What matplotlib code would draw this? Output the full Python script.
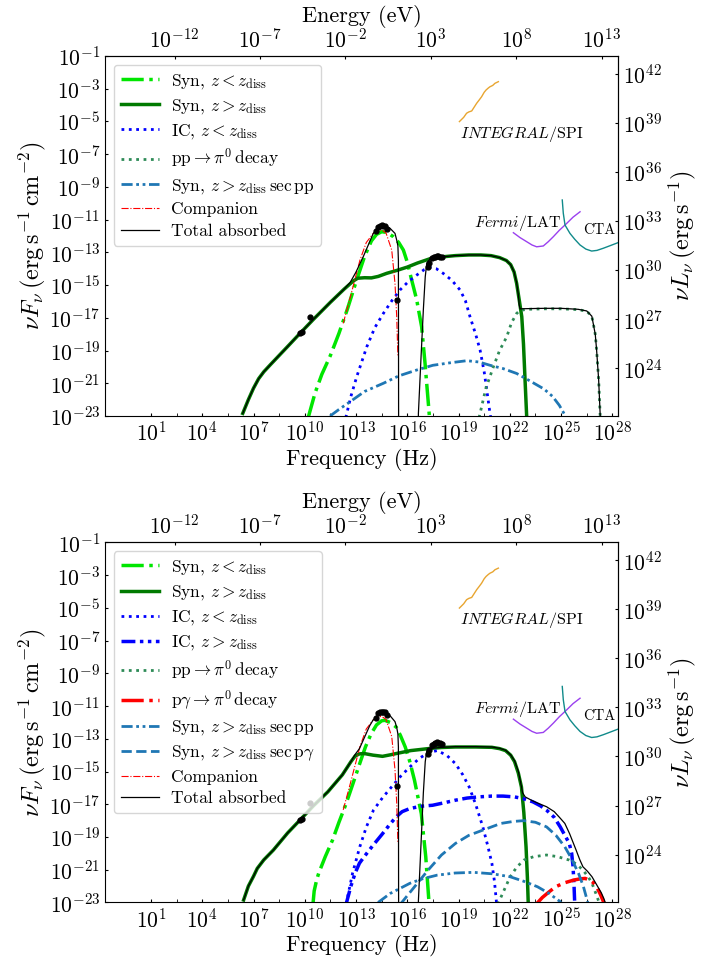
import numpy as np
import matplotlib.pyplot as plt
from matplotlib.ticker import FixedLocator, NullLocator

plt.rcParams['font.family'] = 'serif'
plt.rcParams['font.serif'] = ['cmr10']
plt.rcParams['mathtext.fontset'] = 'cm'
plt.rcParams['axes.formatter.use_mathtext'] = True

H_EV = 4.1357e-15                      # eV s
LUM = 4 * np.pi * (3.086e21) ** 2      # 1 kpc

# ---- values, as log10(nu/Hz) and log10(nuFnu) ----
# top panel
t_syn_in_x = [10.2, 10.6, 11.0, 11.5, 12.0, 12.5, 13.0, 13.5, 13.9, 14.2, 14.5, 14.8, 15.18, 15.5, 15.77,
              16.0, 16.16, 16.55, 16.84, 17.04, 17.23, 17.3]
t_syn_in_y = [-23.1, -21.6, -20.45, -19.3, -17.95, -16.45, -14.8, -13.25, -12.3, -11.9, -11.74, -11.78, -12.04,
              -12.4, -12.86, -13.6, -14.29, -15.9, -17.55, -19.8, -22.2, -23.1]
t_syn_out_x = [6.37, 6.7, 7.0, 7.3, 7.6, 8.0, 9.0, 9.72, 10.5, 11.5, 12.3, 12.84, 13.1, 13.5, 13.9, 14.3, 14.8,
               15.4, 16.0, 16.6, 17.3, 18.0, 18.8, 19.6, 20.3, 20.9, 21.4, 21.8, 22.05, 22.25, 22.4, 22.55,
               22.7, 22.8, 22.9, 22.99]
t_syn_out_y = [-22.84, -22.0, -21.3, -20.72, -20.3, -19.85, -18.75, -17.95, -17.1, -16.05, -15.25, -14.75,
               -14.58, -14.55, -14.56, -14.47, -14.28, -14.1, -13.9, -13.65, -13.4, -13.28, -13.2, -13.16,
               -13.16, -13.2, -13.32, -13.5, -13.75, -14.2, -14.9, -15.9, -16.93, -18.6, -21.0, -23.1]
t_ic_in_x = [12.4, 12.7, 13.04, 13.63, 14.1, 14.6, 15.1, 15.57, 16.05, 16.55, 17.0, 17.33, 17.7, 18.11, 18.6,
             19.09, 19.4, 19.67, 20.0, 20.26, 20.5, 20.65, 20.84, 20.9]
t_ic_in_y = [-23.1, -21.8, -20.6, -18.77, -17.6, -16.73, -15.95, -15.3, -14.8, -14.39, -14.05, -13.92, -14.0,
             -14.29, -14.7, -15.3, -15.95, -16.93, -18.0, -18.97, -20.3, -21.4, -22.84, -23.2]
t_pp_x = [20.2, 20.26, 20.6, 21.04, 21.4, 21.82, 22.1, 22.4, 22.6, 23.0, 24.0, 25.0, 26.0, 26.5, 26.8, 27.0,
          27.08, 27.2, 27.29, 27.32]
t_pp_y = [-23.1, -22.84, -21.3, -19.99, -19.0, -18.16, -17.3, -16.73, -16.55, -16.48, -16.45, -16.45, -16.5,
          -16.6, -16.9, -18.0, -18.97, -20.8, -23.0, -23.2]
t_sec_pp_x = [11.48, 12.0, 12.65, 13.5, 14.6, 15.5, 16.55, 17.5, 18.5, 19.48, 20.2, 20.84, 21.6, 22.4, 23.0,
              23.5, 24.0, 24.5, 24.9, 25.2, 25.25]
t_sec_pp_y = [-23.0, -22.6, -22.13, -21.5, -21.0, -20.55, -20.19, -19.9, -19.75, -19.62, -19.7, -19.9, -20.1,
              -20.4, -20.75, -21.05, -21.35, -21.8, -22.35, -22.9, -23.1]
comp_x = [12.25, 12.7, 13.23, 13.6, 14.01, 14.3, 14.5, 14.75, 15.09, 15.28, 15.38, 15.42, 15.45]
comp_y = [-17.34, -15.6, -13.47, -12.4, -11.84, -11.66, -11.63, -11.8, -12.86, -14.9, -16.9, -18.3, -19.3]
t_total_x = [6.37, 6.7, 7.0, 7.3, 7.6, 8.0, 9.0, 9.72, 10.5, 11.5, 12.3, 12.65, 13.0, 13.42, 14.01, 14.31,
             14.6, 14.99, 15.28, 15.38, 15.45, 15.48, 15.5, 16.6, 16.65, 16.8, 16.94, 17.05, 17.14, 17.33,
             18.0, 18.8, 19.6, 20.3, 20.9, 21.4, 21.8, 22.05, 22.25, 22.4, 22.5, 22.55, 22.6, 23.0, 24.0,
             25.0, 26.0, 26.5, 26.8, 27.0, 27.08, 27.2, 27.3]
t_total_y = [-22.84, -22.0, -21.3, -20.72, -20.3, -19.85, -18.75, -17.95, -17.1, -16.05, -15.25, -14.85,
             -14.2, -13.27, -11.84, -11.47, -11.33, -11.53, -11.84, -12.25, -12.6, -13.5, -30.0, -30.0,
             -22.84, -19.5, -16.5, -14.5, -13.67, -13.4, -13.28, -13.2, -13.16, -13.16, -13.2, -13.32,
             -13.5, -13.75, -14.2, -14.85, -15.6, -16.2, -16.45, -16.44, -16.42, -16.42, -16.48, -16.58,
             -16.9, -18.0, -18.97, -20.8, -23.2]

# bottom panel
b_syn_in_x = [10.48, 10.55, 10.7, 10.82, 11.2, 11.62, 12.0, 12.42, 12.8, 13.22, 13.55, 13.88, 14.2, 14.5,
              14.68, 15.0, 15.35, 15.6, 15.88, 16.15, 16.42, 16.82, 17.08, 17.27]
b_syn_in_y = [-23.1, -22.3, -21.6, -21.2, -20.2, -19.2, -18.1, -16.96, -15.8, -14.5, -13.5, -12.7, -12.15,
              -11.9, -11.87, -12.0, -12.28, -12.8, -13.5, -14.4, -15.53, -17.57, -20.2, -23.0]
b_syn_out_x = [6.42, 6.7, 7.0, 7.22, 7.6, 8.16, 9.0, 9.75, 10.5, 11.35, 12.2, 12.7, 12.95, 13.2, 13.48, 14.0,
               14.55, 15.0, 15.35, 16.2, 17.22, 18.0, 18.82, 20.0, 20.95, 21.4, 21.75, 22.05, 22.28, 22.5,
               22.68, 22.82, 22.95, 23.03, 23.08]
b_syn_out_y = [-22.85, -22.0, -21.4, -20.92, -20.4, -19.8, -18.75, -17.93, -17.1, -16.24, -15.2, -14.4,
               -14.05, -13.92, -13.9, -14.0, -14.07, -13.98, -13.9, -13.72, -13.6, -13.53, -13.5, -13.5,
               -13.52, -13.6, -13.72, -14.0, -14.4, -15.1, -15.94, -17.5, -19.6, -21.5, -23.1]
b_ic_in_x = [12.42, 12.8, 13.22, 13.6, 14.02, 14.55, 15.08, 15.6, 16.15, 16.7, 17.22, 17.75, 18.3, 18.82,
             19.25, 19.62, 20.0, 20.42, 20.7, 20.95, 21.1, 21.22]
b_ic_in_y = [-23.1, -21.2, -19.6, -18.4, -17.36, -16.6, -15.94, -15.3, -14.72, -14.2, -13.85, -13.72, -14.0,
             -14.52, -15.2, -15.94, -17.0, -18.38, -19.5, -20.6, -21.7, -23.0]
b_ic_out_x = [12.42, 12.7, 12.95, 13.2, 13.48, 14.0, 14.55, 15.0, 15.35, 15.7, 16.15, 16.8, 17.48, 18.2,
              18.82, 19.5, 20.15, 20.95, 21.6, 22.28, 22.8, 23.35, 23.8, 24.15, 24.6, 24.95, 25.25, 25.48,
              25.62, 25.7, 25.76, 25.8]
b_ic_out_y = [-23.1, -22.0, -21.2, -20.6, -20.2, -19.5, -18.8, -18.2, -17.77, -17.45, -17.26, -17.12, -17.06,
              -16.9, -16.75, -16.62, -16.55, -16.5, -16.5, -16.55, -16.66, -16.85, -17.1, -17.36, -17.8,
              -18.38, -18.95, -19.39, -20.0, -20.8, -22.0, -23.1]
b_pp_x = [21.3, 21.6, 22.02, 22.4, 22.82, 23.4, 24.15, 24.8, 25.48, 25.9, 26.28, 26.6, 26.81, 27.0, 27.21,
          27.25]
b_pp_y = [-23.1, -22.4, -21.43, -20.85, -20.41, -20.2, -20.1, -20.2, -20.41, -20.65, -21.02, -21.45, -21.83,
          -22.35, -22.95, -23.1]
b_pg_x = [23.55, 23.9, 24.3, 24.68, 25.2, 25.75, 26.1, 26.41, 26.7, 26.9, 27.08, 27.3, 27.48, 27.52]
b_pg_y = [-23.1, -22.7, -22.35, -22.04, -21.8, -21.63, -21.56, -21.53, -21.65, -21.8, -22.04, -22.5, -22.95,
          -23.1]
b_sec_pp_x = [14.29, 15.0, 16.15, 16.9, 17.75, 18.8, 19.88, 21.0, 22.02, 22.8, 23.62, 24.3, 24.95, 25.0]
b_sec_pp_y = [-23.0, -22.45, -21.83, -21.55, -21.33, -21.2, -21.16, -21.25, -21.43, -21.7, -22.04, -22.45,
              -22.95, -23.1]
b_sec_pg_x = [15.6, 16.3, 17.22, 18.0, 18.82, 19.6, 20.42, 21.48, 22.2, 22.82, 23.5, 24.15, 24.7, 25.22,
              25.6, 26.02, 26.3, 26.55, 26.6]
b_sec_pg_y = [-23.1, -22.2, -21.02, -20.1, -19.39, -18.9, -18.58, -18.17, -18.05, -18.0, -18.1, -18.38,
              -18.9, -19.6, -20.3, -21.22, -22.0, -22.95, -23.2]
b_total_x = [6.42, 6.7, 7.0, 7.22, 7.6, 8.16, 9.0, 9.75, 10.5, 11.35, 12.2, 12.7, 12.95, 13.2, 13.5, 13.8,
             14.0, 14.3, 14.55, 14.8, 15.0, 15.28, 15.38, 15.45, 15.48, 15.5, 16.6, 16.65, 16.8, 16.94,
             17.05, 17.14, 17.3, 18.0, 18.82, 20.0, 20.95, 21.4, 21.75, 22.05, 22.28, 22.5, 22.62, 22.75,
             22.9, 23.35, 23.8, 24.15, 24.6, 24.95, 25.22, 25.5, 25.88, 26.1, 26.28, 26.55, 26.81, 27.1,
             27.35, 27.5, 27.62]
b_total_y = [-22.85, -22.0, -21.4, -20.92, -20.4, -19.8, -18.75, -17.93, -17.1, -16.24, -15.2, -14.4,
             -13.95, -13.6, -12.9, -12.2, -11.85, -11.52, -11.42, -11.45, -11.6, -11.95, -12.3, -12.7,
             -13.5, -30.0, -30.0, -22.9, -19.5, -16.3, -14.4, -13.75, -13.6, -13.52, -13.48, -13.48, -13.5,
             -13.58, -13.7, -13.98, -14.35, -15.0, -15.6, -16.3, -16.55, -16.8, -17.0, -17.15, -17.45,
             -17.85, -18.17, -18.8, -19.8, -20.4, -20.82, -21.1, -21.43, -21.95, -22.4, -22.75, -23.1]

# observed points
obs_x = [9.75, 9.82, 10.33, 14.17, 14.31, 14.4, 14.5, 14.6, 14.69, 14.83, 15.38,
         17.2, 17.27, 17.43, 17.55, 17.62, 17.72, 17.82, 17.92, 18.01]
obs_y = [-17.95, -17.88, -16.93, -11.7, -11.43, -11.37, -11.35, -11.36, -11.39, -11.55, -15.9,
         -13.9, -13.67, -13.37, -13.3, -13.27, -13.22, -13.23, -13.28, -13.31]

# instrument sensitivities
spi_x = [19.05, 19.3, 19.47, 19.6, 19.77, 19.9, 20.06, 20.2, 20.35, 20.5, 20.61, 20.75, 20.84, 21.0, 21.13,
         21.33]
spi_y = [-5.01, -4.75, -4.5, -4.42, -4.36, -4.15, -3.89, -3.7, -3.49, -3.22, -3.08, -2.95, -2.88, -2.8,
         -2.67, -2.57]
lat_x = [22.21, 22.6, 22.99, 23.3, 23.57, 23.96, 24.25, 24.55, 24.9, 25.33, 25.7, 26.11]
lat_y = [-11.8, -12.1, -12.35, -12.55, -12.66, -12.61, -12.35, -12.04, -11.65, -11.23, -10.85, -10.52]
cta_x = [25.07, 25.13, 25.23, 25.52, 25.8, 26.11, 26.45, 26.79, 27.1, 27.47, 27.85, 28.35]
cta_y = [-9.8, -10.61, -11.33, -11.84, -12.2, -12.55, -12.8, -12.92, -12.88, -12.75, -12.6, -12.4]


def p(x, y):
    return 10 ** np.array(x), 10 ** np.array(y)


def panel(ax, curves):
    for x, y, kw in curves:
        ax.plot(*p(x, y), **kw)
    ax.plot(*p(obs_x, obs_y), 'o', color='black', ms=3.5, zorder=5)
    ax.plot(*p(spi_x, spi_y), color='#e8a530', lw=1)
    ax.plot(*p(lat_x, lat_y), color='#9a40ef', lw=1)
    ax.plot(*p(cta_x, cta_y), color='#108a8a', lw=1)
    ax.text(10 ** 19.09, 10 ** -6.01, r'$INTEGRAL$/SPI', fontsize=11.5)
    ax.text(10 ** 19.9, 10 ** -11.43, r'$Fermi$/LAT', fontsize=11.5)
    ax.text(10 ** 26.29, 10 ** -11.88, 'CTA', fontsize=10.5)

    ax.set_xscale('log')
    ax.set_yscale('log')
    ax.set_xlim(10 ** -1.69, 10 ** 28.35)
    ax.set_ylim(1e-23, 1e-1)
    ax.xaxis.set_major_locator(FixedLocator([10.0 ** k for k in range(1, 29, 3)]))
    ax.xaxis.set_minor_locator(FixedLocator([10.0 ** (k + 1.5) for k in range(1, 26, 3)]))
    ax.yaxis.set_major_locator(FixedLocator([10.0 ** k for k in range(-23, 0, 2)]))
    ax.yaxis.set_minor_locator(NullLocator())
    ax.tick_params(which='both', direction='in', length=2.5, labelsize=15.5)
    ax.set_xlabel('Frequency (Hz)', fontsize=16, labelpad=2)
    ax.set_ylabel(r'$\nu F_\nu\,(\mathrm{erg\,s^{-1}\,cm^{-2}})$', fontsize=17.5, labelpad=1)

    top = ax.secondary_xaxis('top', functions=(lambda n: n * H_EV, lambda e: e / H_EV))
    top.xaxis.set_major_locator(FixedLocator([10.0 ** k for k in range(-12, 14, 5)]))
    top.xaxis.set_minor_locator(NullLocator())
    top.tick_params(which='both', direction='in', length=2.5, labelsize=15.5)
    top.set_xlabel('Energy (eV)', fontsize=16, labelpad=4)

    right = ax.secondary_yaxis('right', functions=(lambda f: f * LUM, lambda l: l / LUM))
    right.yaxis.set_major_locator(FixedLocator([10.0 ** k for k in range(24, 43, 3)]))
    right.yaxis.set_minor_locator(NullLocator())
    right.tick_params(which='both', direction='in', length=2.5, labelsize=15.5)
    right.set_ylabel(r'$\nu L_\nu\,(\mathrm{erg\,s^{-1}})$', fontsize=17.5, labelpad=3)

    ax.legend(loc='upper left', fontsize=12.5, handlelength=2.2, handletextpad=0.7, labelspacing=0.36)


s_in = dict(color='#00e600', ls='-.', lw=2.5, label=r'Syn, $z<z_{\rm diss}$')
s_out = dict(color='#007a00', ls='-', lw=2.5, label=r'Syn, $z>z_{\rm diss}$')
ic_in = dict(color='blue', ls=':', lw=2, label=r'IC, $z<z_{\rm diss}$')
ic_out = dict(color='blue', ls=(0, (4, 1.3, 1, 1.3, 1, 1.3)), lw=2.5, label=r'IC, $z>z_{\rm diss}$')
pp = dict(color='seagreen', ls=':', lw=2, label=r'$\rm pp\rightarrow\pi^0\,decay$')
pg = dict(color='red', ls='-.', lw=2.5, label=r'$\rm p\gamma\rightarrow\pi^0\,decay$')
sec_pp = dict(color='#1f77b4', ls=(0, (4, 1.3, 1, 1.3, 1, 1.3)), lw=2,
              label=r'Syn, $z>z_{\rm diss}\,\rm sec\,pp$')
sec_pg = dict(color='#1f77b4', ls='--', lw=2, label=r'Syn, $z>z_{\rm diss}\,\rm sec\,p\gamma$')
comp = dict(color='red', ls='-.', lw=0.8, label='Companion')
tot = dict(color='black', ls='-', lw=0.9, label='Total absorbed')

fig = plt.figure(figsize=(7.13, 9.65), dpi=100)
ax1 = fig.add_axes([0.1473, 0.5689, 0.7199, 0.3731])
ax2 = fig.add_axes([0.1473, 0.0648, 0.7199, 0.3731])

panel(ax1, [(t_syn_in_x, t_syn_in_y, s_in), (t_syn_out_x, t_syn_out_y, s_out),
            (t_ic_in_x, t_ic_in_y, ic_in), (t_pp_x, t_pp_y, pp),
            (t_sec_pp_x, t_sec_pp_y, sec_pp), (comp_x, comp_y, comp),
            (t_total_x, t_total_y, tot)])
panel(ax2, [(b_syn_in_x, b_syn_in_y, s_in), (b_syn_out_x, b_syn_out_y, s_out),
            (b_ic_in_x, b_ic_in_y, ic_in), (b_ic_out_x, b_ic_out_y, ic_out),
            (b_pp_x, b_pp_y, pp), (b_pg_x, b_pg_y, pg),
            (b_sec_pp_x, b_sec_pp_y, sec_pp), (b_sec_pg_x, b_sec_pg_y, sec_pg),
            (comp_x, comp_y, comp), (b_total_x, b_total_y, tot)])

fig.savefig('out.png', dpi=100)
